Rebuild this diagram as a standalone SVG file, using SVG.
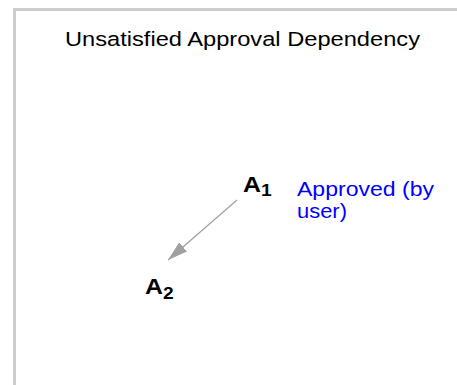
<svg xmlns="http://www.w3.org/2000/svg" width="457" height="385" viewBox="0 0 457 385">
<style>
.frame{fill:#ffffff;stroke:#cccccc;stroke-width:3}
.title{font-family:"Liberation Sans",Arial,sans-serif;font-size:20.5px;fill:#000000}
.node{font-family:"Liberation Sans",Arial,sans-serif;font-weight:bold;font-size:22px;fill:#000000}
.sub{font-size:17px}
.note{font-family:"Liberation Sans",Arial,sans-serif;font-size:20px;fill:#0000ff}
.edge{stroke:#a0a0a0;stroke-width:1.2;fill:none}
</style>
<defs>
<marker id="arrow" markerUnits="userSpaceOnUse" markerWidth="22" markerHeight="12" refX="20" refY="6" orient="auto">
<path d="M0,0 L20,6 L0,12 Z" fill="#a0a0a0"/>
</marker>
</defs>
<rect width="457" height="385" fill="#ffffff"/>
<rect class="frame" x="14.5" y="9.5" width="460" height="400"/>
<g id="title">
<text class="title" x="65" y="46" textLength="355" lengthAdjust="spacingAndGlyphs">Unsatisfied Approval Dependency</text>
</g>
<g id="connectors">
<line class="edge" x1="237" y1="200" x2="168" y2="260" marker-end="url(#arrow)"/>
</g>
<g id="node-A1" transform="translate(243,192) scale(1.13 1)">
<text class="node" x="0" y="0">A<tspan class="sub" dy="4">1</tspan></text>
</g>
<g id="node-A2" transform="translate(145,294) scale(1.13 1)">
<text class="node" x="0" y="0">A<tspan class="sub" dy="5">2</tspan></text>
</g>
<g id="note-A1">
<text class="note" x="297" y="196" textLength="137" lengthAdjust="spacingAndGlyphs">Approved (by</text>
<text class="note" x="297" y="218" textLength="50" lengthAdjust="spacingAndGlyphs">user)</text>
</g>
</svg>
